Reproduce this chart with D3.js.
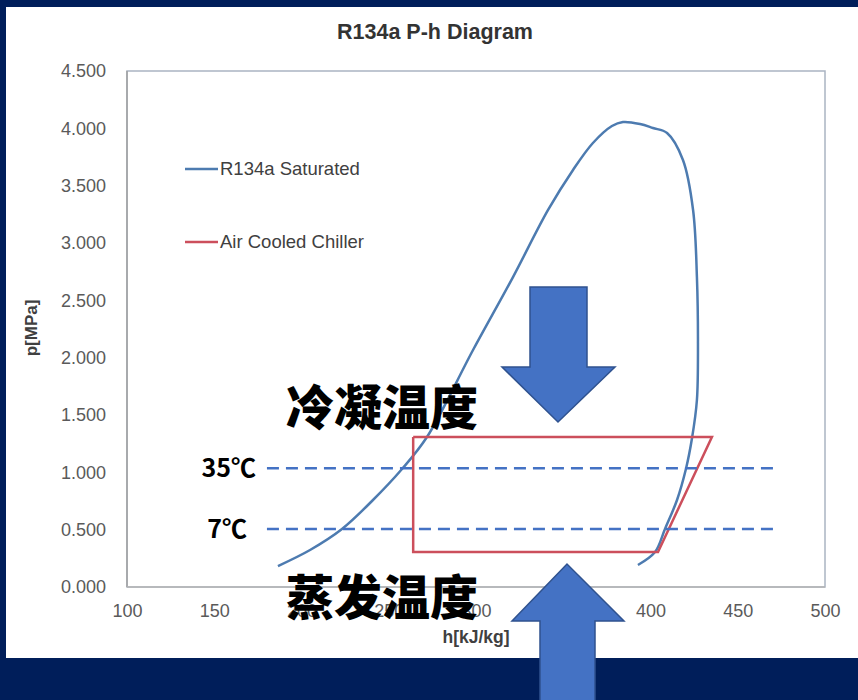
<!DOCTYPE html>
<html><head><meta charset="utf-8">
<script src="https://cdn.jsdelivr.net/npm/d3@7/dist/d3.min.js"></script>
<style>
html,body{margin:0;padding:0;background:#001e5a;}
svg{display:block;}
</style></head>
<body>
<svg id="c" width="858" height="700"></svg>
<script>
// ---- data ----
const xTicks = [100,150,200,250,300,350,400,450,500];
const yTicks = [0,0.5,1.0,1.5,2.0,2.5,3.0,3.5,4.0,4.5];
// R134a saturation dome: enthalpy h [kJ/kg] and pressure p [MPa]
const satH = [186.5,204.9,223.2,240.4,257.6,271.9,298.3,321.2,341.3,355.6,367.0,377.9,384.2,394.0,401.4,409.5,418.6,424.4,426.6,427.2,426.6,423.8,420.3,415.2,408.3,402.6,392.8];
const satP = [0.183,0.323,0.506,0.750,1.029,1.308,2.067,2.703,3.288,3.637,3.872,4.020,4.055,4.038,4.003,3.959,3.724,3.288,2.703,2.128,1.631,1.299,1.029,0.759,0.506,0.305,0.192];
// Air cooled chiller cycle
const cycH = [264.0,435.2,404.3,264.0,264.0];
const cycP = [1.308,1.308,0.305,0.305,1.308];
// reference temperature lines
const refLabels = ["35℃","7℃"];
const refP = [1.035,0.505];
const refH0 = [180.2,180.2];
const refH1 = [472.5,472.5];
const seriesNames = ["R134a Saturated","Air Cooled Chiller"];
const seriesColors = ["#4d7bb0","#cc4f5c"];

// ---- drawing ----
const svg = d3.select("#c");
const x = d3.scaleLinear().domain([100,500]).range([127,825]);
const y = d3.scaleLinear().domain([0,4.5]).range([587,71]);
const latin = "Liberation Sans, Arial, sans-serif";

// white panel
svg.append("rect").attr("x",6).attr("y",7).attr("width",852).attr("height",651).attr("fill","#ffffff");

// plot frame
svg.append("rect").attr("x",x(100)).attr("y",y(4.5)).attr("width",x(500)-x(100)).attr("height",y(0)-y(4.5))
  .attr("fill","none").attr("stroke","#aab4c2").attr("stroke-width",1.5);
svg.append("line").attr("x1",x(100)).attr("x2",x(100)).attr("y1",y(4.5)).attr("y2",y(0)).attr("stroke","#a0a0a0").attr("stroke-width",1.5);
svg.append("line").attr("x1",x(100)).attr("x2",x(500)).attr("y1",y(0)).attr("y2",y(0)).attr("stroke","#b4b4b4").attr("stroke-width",1.5);

// axes
const gx = svg.append("g").attr("transform",`translate(0,${y(0)})`)
  .call(d3.axisBottom(x).tickValues(xTicks).tickSize(0).tickPadding(17).tickFormat(d3.format("d")));
const gy = svg.append("g").attr("transform",`translate(${x(100)},0)`)
  .call(d3.axisLeft(y).tickValues(yTicks).tickSize(0).tickPadding(21).tickFormat(d3.format(".3f")));
[gx,gy].forEach(g=>{
  g.select(".domain").remove();
  g.selectAll("text").attr("fill","#5a5a5a").style("font-family",latin).style("font-size","18px");
});

// title & axis labels
svg.append("text").attr("x",435).attr("y",39).attr("text-anchor","middle")
  .style("font-family",latin).style("font-weight","bold").style("font-size","21.5px").attr("fill","#333")
  .text("R134a P-h Diagram");
svg.append("text").attr("transform","translate(37,328) rotate(-90)").attr("text-anchor","middle")
  .style("font-family",latin).style("font-weight","bold").style("font-size","17px").attr("fill","#404040")
  .text("p[MPa]");
svg.append("text").attr("x",476).attr("y",643).attr("text-anchor","middle")
  .style("font-family",latin).style("font-weight","bold").style("font-size","17.5px").attr("fill","#404040")
  .text("h[kJ/kg]");

// legend
const legY = [169,242];
seriesNames.forEach((n,i)=>{
  svg.append("line").attr("x1",185).attr("x2",218).attr("y1",legY[i]).attr("y2",legY[i])
    .attr("stroke",seriesColors[i]).attr("stroke-width",2.5);
  svg.append("text").attr("x",220).attr("y",legY[i]).attr("dy","0.35em")
    .style("font-family",latin).style("font-size","18.5px").attr("fill","#404040").text(n);
});

// saturation dome
const satData = satH.map((h,i)=>[h,satP[i]]);
svg.append("path").datum(satData)
  .attr("d",d3.line().x(d=>x(d[0])).y(d=>y(d[1])).curve(d3.curveCatmullRom.alpha(0.5)))
  .attr("fill","none").attr("stroke",seriesColors[0]).attr("stroke-width",2.5);

// cycle
const cycData = cycH.map((h,i)=>[h,cycP[i]]);
svg.append("path").datum(cycData)
  .attr("d",d3.line().x(d=>x(d[0])).y(d=>y(d[1])))
  .attr("fill","none").attr("stroke",seriesColors[1]).attr("stroke-width",2.5).attr("stroke-linejoin","miter");

// reference dashed lines
const labelEnds = [256,247];
refLabels.forEach((l,i)=>{
  svg.append("line").attr("x1",x(refH0[i])).attr("x2",x(refH1[i])).attr("y1",y(refP[i])).attr("y2",y(refP[i]))
    .attr("stroke","#4472c4").attr("stroke-width",2.5).attr("stroke-dasharray","12,7");
  svg.append("text").attr("x",labelEnds[i]).attr("y",y(refP[i])).attr("dy","0.35em").attr("text-anchor","end")
    .style("font-family","Noto Sans CJK SC, Noto Sans, sans-serif").style("font-weight","bold").style("font-size","25px").attr("fill","#000")
    .text(l);
});

// big chinese labels
svg.append("text").attr("x",286).attr("y",404).attr("dominant-baseline","central")
  .style("font-family","Noto Sans CJK SC, sans-serif").style("font-weight","900").style("font-size","48px").attr("fill","#000")
  .text("冷凝温度");
svg.append("text").attr("x",286).attr("y",594).attr("dominant-baseline","central")
  .style("font-family","Noto Sans CJK SC, sans-serif").style("font-weight","900").style("font-size","48px").attr("fill","#000")
  .text("蒸发温度");

// arrows
const arrowStyle = g=>g.attr("fill","#4472c4").attr("stroke","#2f528f").attr("stroke-width",1.5);
svg.append("polygon").attr("points",[[530,287],[587,287],[587,367],[615,367],[558,422],[502,367],[530,367]].join(" ")).call(arrowStyle);
svg.append("polygon").attr("points",[[540,705],[540,621],[512,621],[567,564],[624,621],[595,621],[595,705]].join(" ")).call(arrowStyle);
</script>
</body></html>
